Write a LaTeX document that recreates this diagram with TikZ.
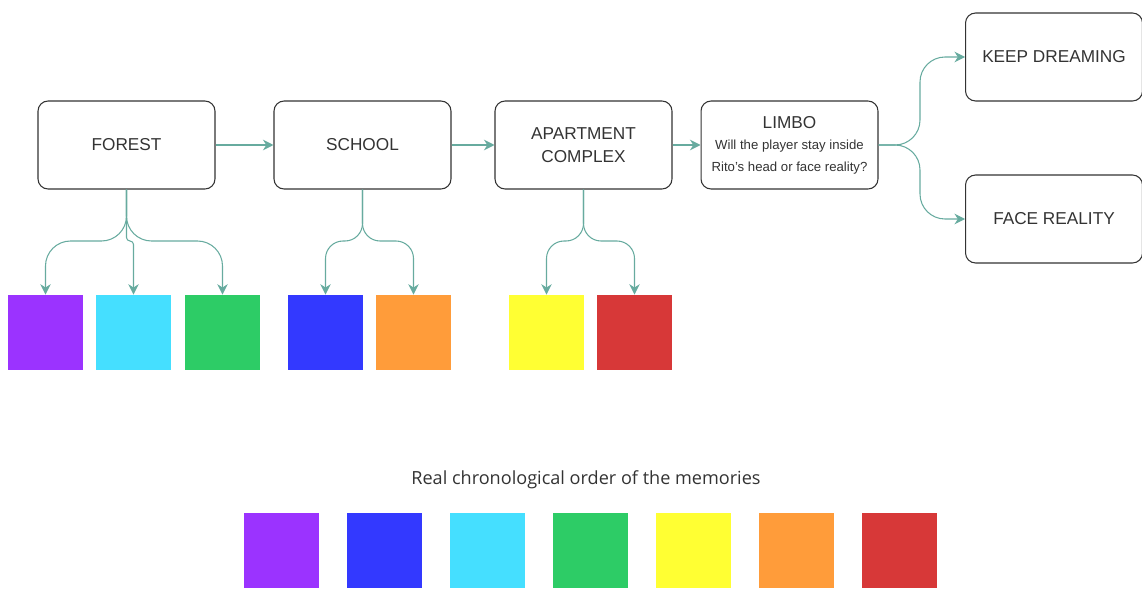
\documentclass[tikz,border=0pt]{standalone}
\usepackage{fontspec}
\setmainfont{Liberation Sans}
\newfontfamily\titlefont{Open Sans}
\usetikzlibrary{arrows.meta}
\definecolor{flow}{HTML}{67AB9F}
\definecolor{ink}{HTML}{333333}
\definecolor{mpurple}{HTML}{9B33FF}
\definecolor{mcyan}{HTML}{45DFFF}
\definecolor{mgreen}{HTML}{2DCC66}
\definecolor{mblue}{HTML}{3339FF}
\definecolor{morange}{HTML}{FF9C3A}
\definecolor{myellow}{HTML}{FFFF33}
\definecolor{mred}{HTML}{D73838}
\newcommand\limbonote[1]{{\fontsize{7.5}{8}\selectfont #1}}
\begin{document}
\begin{tikzpicture}[x=0.02cm,y=-0.02cm,
    place/.style={draw=ink,line width=0.6pt,rounded corners=0.2cm,
      minimum width=3.54cm,minimum height=1.76cm,align=center,
      text=ink,font=\fontsize{9.8}{13}\selectfont},
    memory/.style={minimum size=1.5cm,inner sep=0pt},
    link/.style={flow,line width=0.6pt,-{Stealth[length=6pt,width=6pt]}},
    elbow/.style={rounded corners=#1}, elbow/.default=0.5cm]
  \useasboundingbox (0,0) rectangle (1142,588);
  % places
  \node[place] (forest) at (126.5,145) {FOREST};
  \node[place] (school) at (362.5,145) {SCHOOL};
  \node[place] (apart) at (583.5,145) {APARTMENT\\COMPLEX};
  \node[place] (limbo) at (789.5,145)
    {LIMBO\\[-1pt]\limbonote{Will the player stay inside}\\[-0.5pt]\limbonote{Rito's head or face reality?}};
  \node[place] (keep) at (1054,57) {KEEP DREAMING};
  \node[place] (face) at (1054,219) {FACE REALITY};
  % memories found in each place
  \node[memory,fill=mpurple] (fpurple) at (45.5,332.5) {};
  \node[memory,fill=mcyan] (fcyan) at (133.5,332.5) {};
  \node[memory,fill=mgreen] (fgreen) at (222.5,332.5) {};
  \node[memory,fill=mblue] (sblue) at (325.5,332.5) {};
  \node[memory,fill=morange] (sorange) at (413.5,332.5) {};
  \node[memory,fill=myellow] (ayellow) at (546.5,332.5) {};
  \node[memory,fill=mred] (ared) at (634.5,332.5) {};
  % chronological order
  \node[text=ink,font=\titlefont\fontsize{10.3}{12}\selectfont] (order) at (586,480)
    {Real chronological order of the memories};
  \foreach \c [count=\i from 0] in {mpurple,mblue,mcyan,mgreen,myellow,morange,mred}
    \node[memory,fill=\c] (chrono\i) at (281.5+103*\i,550.5) {};
  % path of the player
  \draw[link] (forest) -- (school);
  \draw[link] (school) -- (apart);
  \draw[link] (apart) -- (limbo);
  \draw[link,elbow] (limbo.east) -- (920,145) -- (920,57) -- (keep.west);
  \draw[link,elbow] (limbo.east) -- (920,145) -- (920,219) -- (face.west);
  % memories
  \draw[link,elbow] (forest.south) |- (45.5,241) -- (fpurple.north);
  \draw[link,elbow=2pt] (forest.south) |- (133.5,241) -- (fcyan.north);
  \draw[link,elbow] (forest.south) |- (222.5,241) -- (fgreen.north);
  \draw[link,elbow=0.35cm] (school.south) |- (325.5,241) -- (sblue.north);
  \draw[link,elbow=0.35cm] (school.south) |- (413.5,241) -- (sorange.north);
  \draw[link,elbow=0.35cm] (apart.south) |- (546.5,241) -- (ayellow.north);
  \draw[link,elbow=0.35cm] (apart.south) |- (634.5,241) -- (ared.north);
\end{tikzpicture}
\end{document}
